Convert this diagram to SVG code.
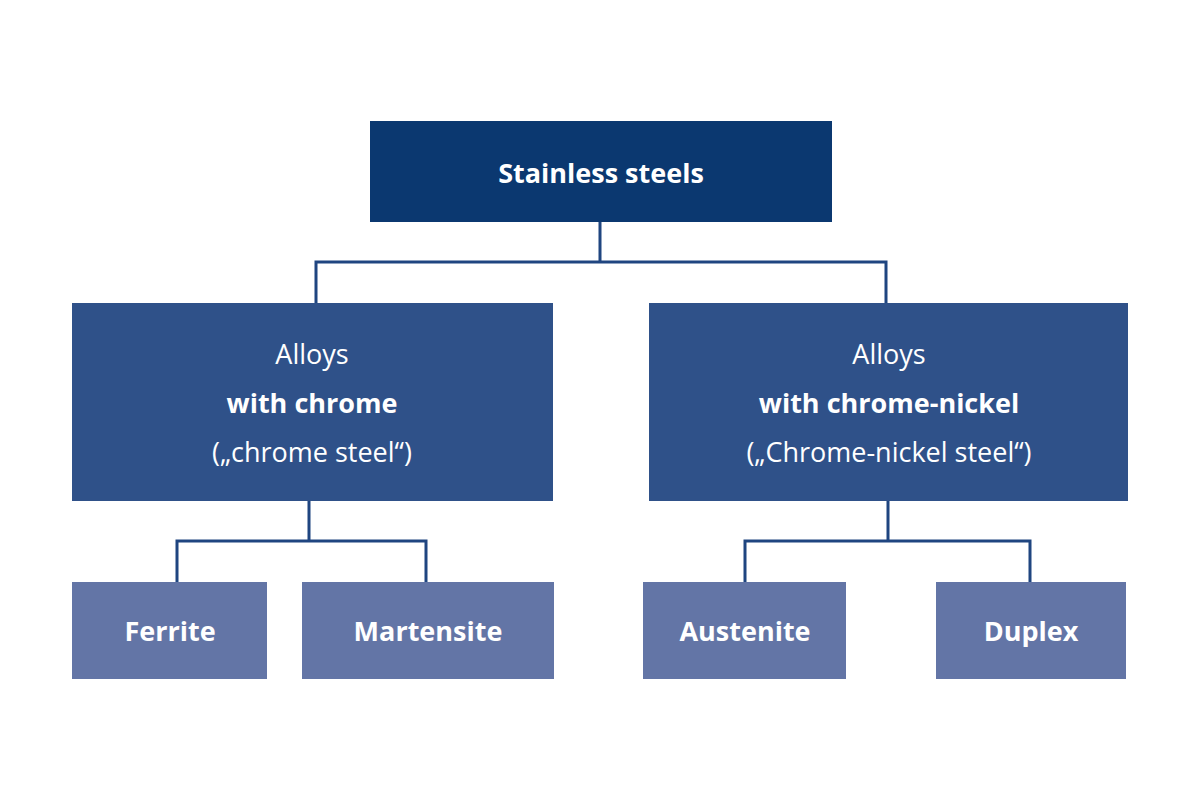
<svg xmlns="http://www.w3.org/2000/svg" width="1200" height="800" viewBox="0 0 1200 800">
<style>
text{font-family:"Open Sans","Liberation Sans",sans-serif;fill:#fff;text-anchor:middle;font-size:27px}
.b{font-weight:bold}
.top{fill:#0b3870}.mid{fill:#2f5189}.low{fill:#6375a6}
.c{fill:none;stroke:#1f4580;stroke-width:3}
</style>
<rect width="1200" height="800" fill="#fff"/>
<g id="connectors">
<path class="c" d="M600 222V262M316 303V262H886V303"/>
<path class="c" d="M309 501V541M177 582V541H426V582"/>
<path class="c" d="M888 501V541M745 582V541H1030V582"/>
</g>
<g id="stainless"><rect class="top" x="370" y="121" width="462" height="101"/><text class="b" x="601" y="183">Stainless steels</text></g>
<g id="chrome"><rect class="mid" x="72" y="303" width="481" height="198"/>
<text x="312" y="364">Alloys</text><text class="b" x="312" y="413">with chrome</text><text x="312" y="462">(„chrome steel“)</text></g>
<g id="chromenickel"><rect class="mid" x="649" y="303" width="479" height="198"/>
<text x="889" y="364">Alloys</text><text class="b" x="889" y="413">with chrome-nickel</text><text x="889" y="462">(„Chrome-nickel steel“)</text></g>
<g id="ferrite"><rect class="low" x="72" y="582" width="195" height="97"/><text class="b" x="170" y="641">Ferrite</text></g>
<g id="martensite"><rect class="low" x="302" y="582" width="252" height="97"/><text class="b" x="428" y="641">Martensite</text></g>
<g id="austenite"><rect class="low" x="643" y="582" width="203" height="97"/><text class="b" x="745" y="641">Austenite</text></g>
<g id="duplex"><rect class="low" x="936" y="582" width="190" height="97"/><text class="b" x="1031" y="641">Duplex</text></g>
</svg>
